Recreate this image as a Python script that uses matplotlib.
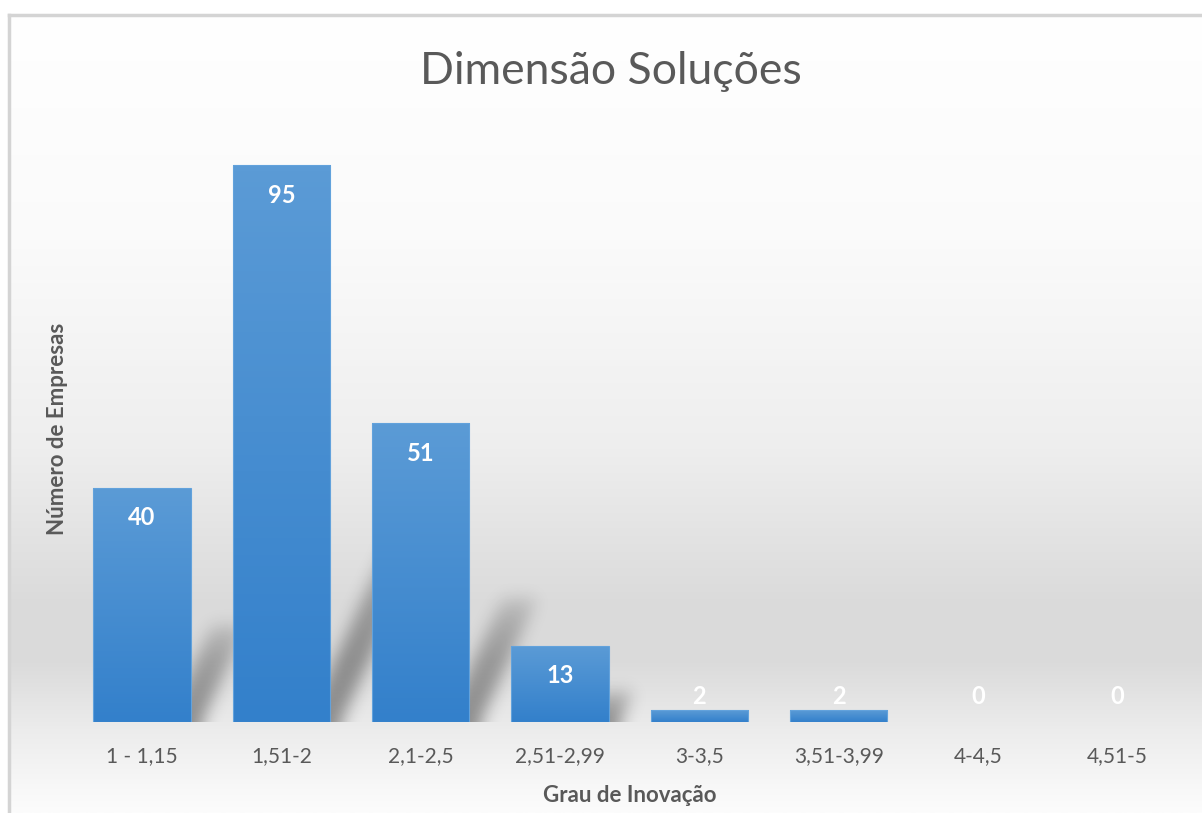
import numpy as np
import matplotlib
matplotlib.use("Agg")
import matplotlib.pyplot as plt
from matplotlib.colors import LinearSegmentedColormap

plt.rcParams['font.family'] = ['Lato', 'DejaVu Sans']

# dados
categorias = ["1 - 1,15", "1,51-2", "2,1-2,5", "2,51-2,99", "3-3,5", "3,51-3,99", "4-4,5", "4,51-5"]
empresas = [40, 95, 51, 13, 2, 2, 0, 0]
titulo = "Dimensão Soluções"
rotulo_x = "Grau de Inovação"
rotulo_y = "Número de Empresas"

W, H = 1202, 813
cinza_txt = '#595959'

fig = plt.figure(figsize=(W / 100, H / 100), dpi=100)
fig.patch.set_facecolor('white')

# fundo com gradiente (estilo Excel)
bg = fig.add_axes([0, 0, 1, 1], zorder=-2)
bg.set_xlim(0, W)
bg.set_ylim(H, 0)
bg.axis('off')
pos = np.array([15, 250, 450, 600, 660, 730, 790, 813])
lum = np.array([255, 250, 238, 219, 218, 236, 248, 252]) / 255
yy = np.arange(15, H + 1)
col = np.interp(yy, pos, lum)
grad = np.repeat(col[:, None], 2, axis=1)
img = np.dstack([grad, grad, grad])
bg.imshow(img, extent=[9, W + 5, H, 15], aspect='auto', interpolation='bilinear')
bg.plot([9, 9], [15, H + 5], color='#d4d4d4', lw=2.5)
bg.plot([9, W + 5], [15, 15], color='#d4d4d4', lw=2.5)

ax = fig.add_axes([0.0602, 0.1119, 0.9273, 0.7208])
ax.set_facecolor('none')
x = np.arange(len(categorias))
ax.set_xlim(-0.5, len(categorias) - 0.5)
ax.set_ylim(0, 100)
largura = 0.70

# sombras em perspectiva (faixa inclinada atrás de cada barra)
nx, ny = 1115, 586
xs = np.linspace(-0.5, len(categorias) - 0.5, nx)
ys = np.linspace(0, 100, ny)
XX, YY = np.meshgrid(xs, ys)
sombra = np.zeros((ny, nx))
incl = 0.0194
for xi, v in zip(x, empresas):
    if v < 5:
        continue
    hs = 0.42 * v
    borda = xi + largura / 2
    x0 = borda - 0.17 + incl * YY
    x1 = borda + 0.08 + incl * YY
    m = (XX >= x0) & (XX <= x1) & (YY <= hs)
    fade = np.clip(1 - YY / hs, 0, 1) ** 0.4
    sombra = np.maximum(sombra, m * fade)

def borrar(a, sigma):
    r = int(3 * sigma)
    k = np.exp(-0.5 * (np.arange(-r, r + 1) / sigma) ** 2)
    k /= k.sum()
    p = np.pad(a, ((0, 0), (r, r)), mode='edge')
    a = sum(k[i] * p[:, i:i + a.shape[1]] for i in range(len(k)))
    p = np.pad(a, ((r, r), (0, 0)), mode='edge')
    a = sum(k[i] * p[i:i + a.shape[0], :] for i in range(len(k)))
    return a

sombra = borrar(sombra, 8)
rgba = np.zeros((ny, nx, 4))
rgba[..., 3] = 0.40 * sombra
ax.imshow(rgba, extent=[-0.5, len(categorias) - 0.5, 0, 100], origin='lower',
          aspect='auto', zorder=1, interpolation='bilinear')

# barras com gradiente
cmap = LinearSegmentedColormap.from_list('azul', ['#3380cb', '#5b9bd6'])
barras = ax.bar(x, empresas, width=largura, color='none', edgecolor='#62a2dc',
                linewidth=0.8, zorder=3)
vert = np.linspace(0, 1, 100)[:, None]
for b in barras:
    if b.get_height() <= 0:
        b.set_linewidth(0)
        continue
    im = ax.imshow(vert, cmap=cmap, origin='lower', aspect='auto',
                   extent=[b.get_x(), b.get_x() + b.get_width(), 0, b.get_height()],
                   zorder=2)
    im.set_clip_path(b)

# rótulos de valores
for xi, v in zip(x, empresas):
    yl = v - 5.1 if v > 10 else 4.3
    ax.text(xi, yl, str(v), ha='center', va='center', color='white',
            fontsize=17, fontweight='bold', zorder=4)

ax.set_xticks(x)
ax.set_xticklabels(categorias, fontsize=15, color=cinza_txt)
ax.tick_params(axis='x', length=0, pad=17)
ax.set_yticks([])
for s in ax.spines.values():
    s.set_visible(False)

ax.set_xlabel(rotulo_x, fontsize=16, fontweight='bold', color=cinza_txt, labelpad=14)
ax.set_ylabel(rotulo_y, fontsize=16, fontweight='bold', color=cinza_txt, labelpad=3)

fig.text(0.508, 1 - 72 / H, titulo, ha='center', va='center', fontsize=32,
         color=cinza_txt)

fig.savefig('out.png', dpi=100)
